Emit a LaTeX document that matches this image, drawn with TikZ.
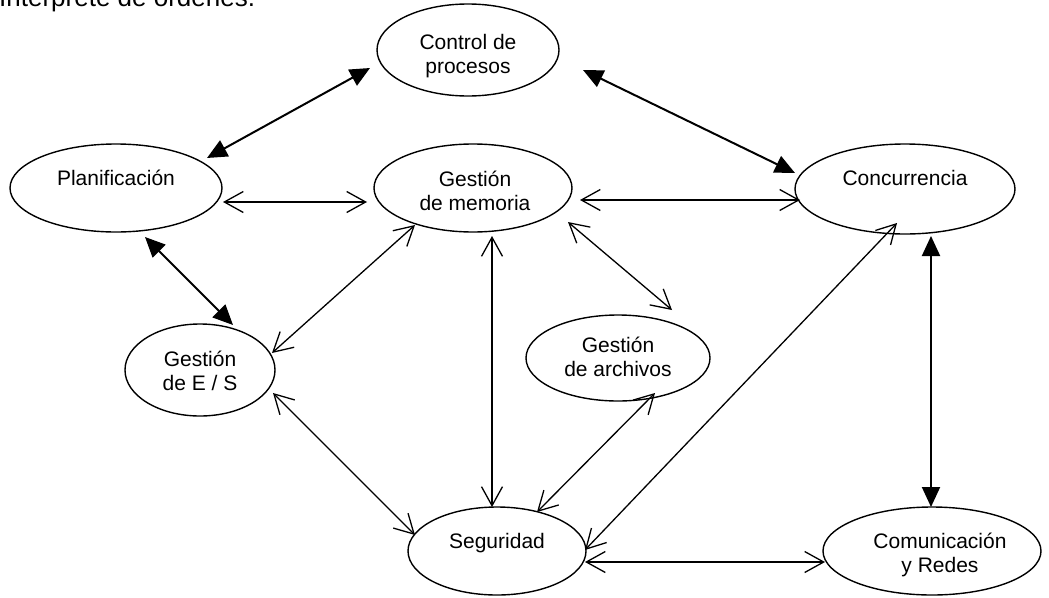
\documentclass[tikz,border=0pt]{standalone}
\usepackage{fontspec}
\setmainfont{Liberation Sans}
\usetikzlibrary{shapes.geometric,arrows.meta,calc}
\begin{document}
\begin{tikzpicture}[x=1pt,y=-1pt,
  ell/.style={draw, ellipse, line width=1.4pt, inner sep=0pt, outer sep=0pt},
  lbl/.style={font=\fontsize{21}{23.5}\selectfont, inner sep=0pt, anchor=base, align=center},
  link/.style={line width=1.3pt, {Straight Barb[length=19pt,width=21pt]}-{Straight Barb[length=19pt,width=21pt]}},
  bold link/.style={line width=2pt, {Triangle[length=20pt,width=18pt]}-{Triangle[length=20pt,width=18pt]}}]
\useasboundingbox (0,0) rectangle (1049,597);

% heading line, cut by the top edge
\node[inner sep=0pt, anchor=base west, font=\fontsize{26}{28}\selectfont] (head) at (-1,6) {Intérprete de órdenes.};

% modules
\node[ell, minimum width=182pt, minimum height=92pt] (ctl)  at (468,50)  {};
\node[ell, minimum width=212pt, minimum height=88pt] (plan) at (116,188) {};
\node[ell, minimum width=198pt, minimum height=88pt] (mem)  at (473,188) {};
\node[ell, minimum width=220pt, minimum height=90pt] (conc) at (905,189) {};
\node[ell, minimum width=150pt, minimum height=92pt] (es)   at (200,370) {};
\node[ell, minimum width=184pt, minimum height=86pt] (arch) at (618,358) {};
\node[ell, minimum width=178pt, minimum height=88pt] (seg)  at (497,551) {};
\node[ell, minimum width=218pt, minimum height=88pt] (com)  at (932,551) {};

% labels (base anchor = baseline of the last line)
\node[lbl] (ctl-t)  at ($(ctl)+(0,23)$)  {Control de\\procesos};
\node[lbl] (plan-t) at ($(plan)+(0,-3)$) {Planificación};
\node[lbl] (mem-t)  at ($(mem)+(2,22)$)  {Gestión\\de memoria};
\node[lbl] (conc-t) at ($(conc)+(0,-4)$) {Concurrencia};
\node[lbl] (es-t)   at ($(es)+(0,20)$)   {Gestión\\de E / S};
\node[lbl] (arch-t) at ($(arch)+(0,18)$) {Gestión\\de archivos};
\node[lbl] (seg-t)  at ($(seg)+(0,-3)$)  {Seguridad};
\node[lbl] (com-t)  at ($(com)+(8,21)$)  {Comunicación\\y Redes};

% links with solid heads
\draw[bold link] ($(ctl)+(-98,18)$) -- ($(plan)+(91,-30)$);
\draw[bold link] ($(ctl)+(115,20)$) -- ($(conc)+(-110,-16)$);
\draw[bold link] ($(plan)+(29,49)$) -- ($(es)+(33,-45)$);
\draw[bold link] ($(conc)+(26,47)$) -- ($(com)+(-1,-44)$);

% links with open heads
\draw[link] ($(plan)+(107,14)$) -- ($(mem)+(-106,14)$);
\draw[link] ($(mem)+(107,12)$)  -- ($(conc)+(-105,11)$);
\draw[link] ($(mem)+(-58,37)$)  -- ($(es)+(72,-17)$);
\draw[link] ($(mem)+(19,48)$)   -- ($(seg)+(-5,-44)$);
\draw[link] ($(mem)+(95,34)$)   -- ($(arch)+(54,-48)$);
\draw[link] ($(es)+(73,23)$)    -- ($(seg)+(-82,-16)$);
\draw[link] ($(arch)+(37,35)$)  -- ($(seg)+(40,-39)$);
\draw[link] ($(conc)+(-8,34)$)  -- ($(seg)+(88,-1)$);
\draw[link] ($(seg)+(88,11)$)   -- ($(com)+(-107,11)$);
\end{tikzpicture}
\end{document}
